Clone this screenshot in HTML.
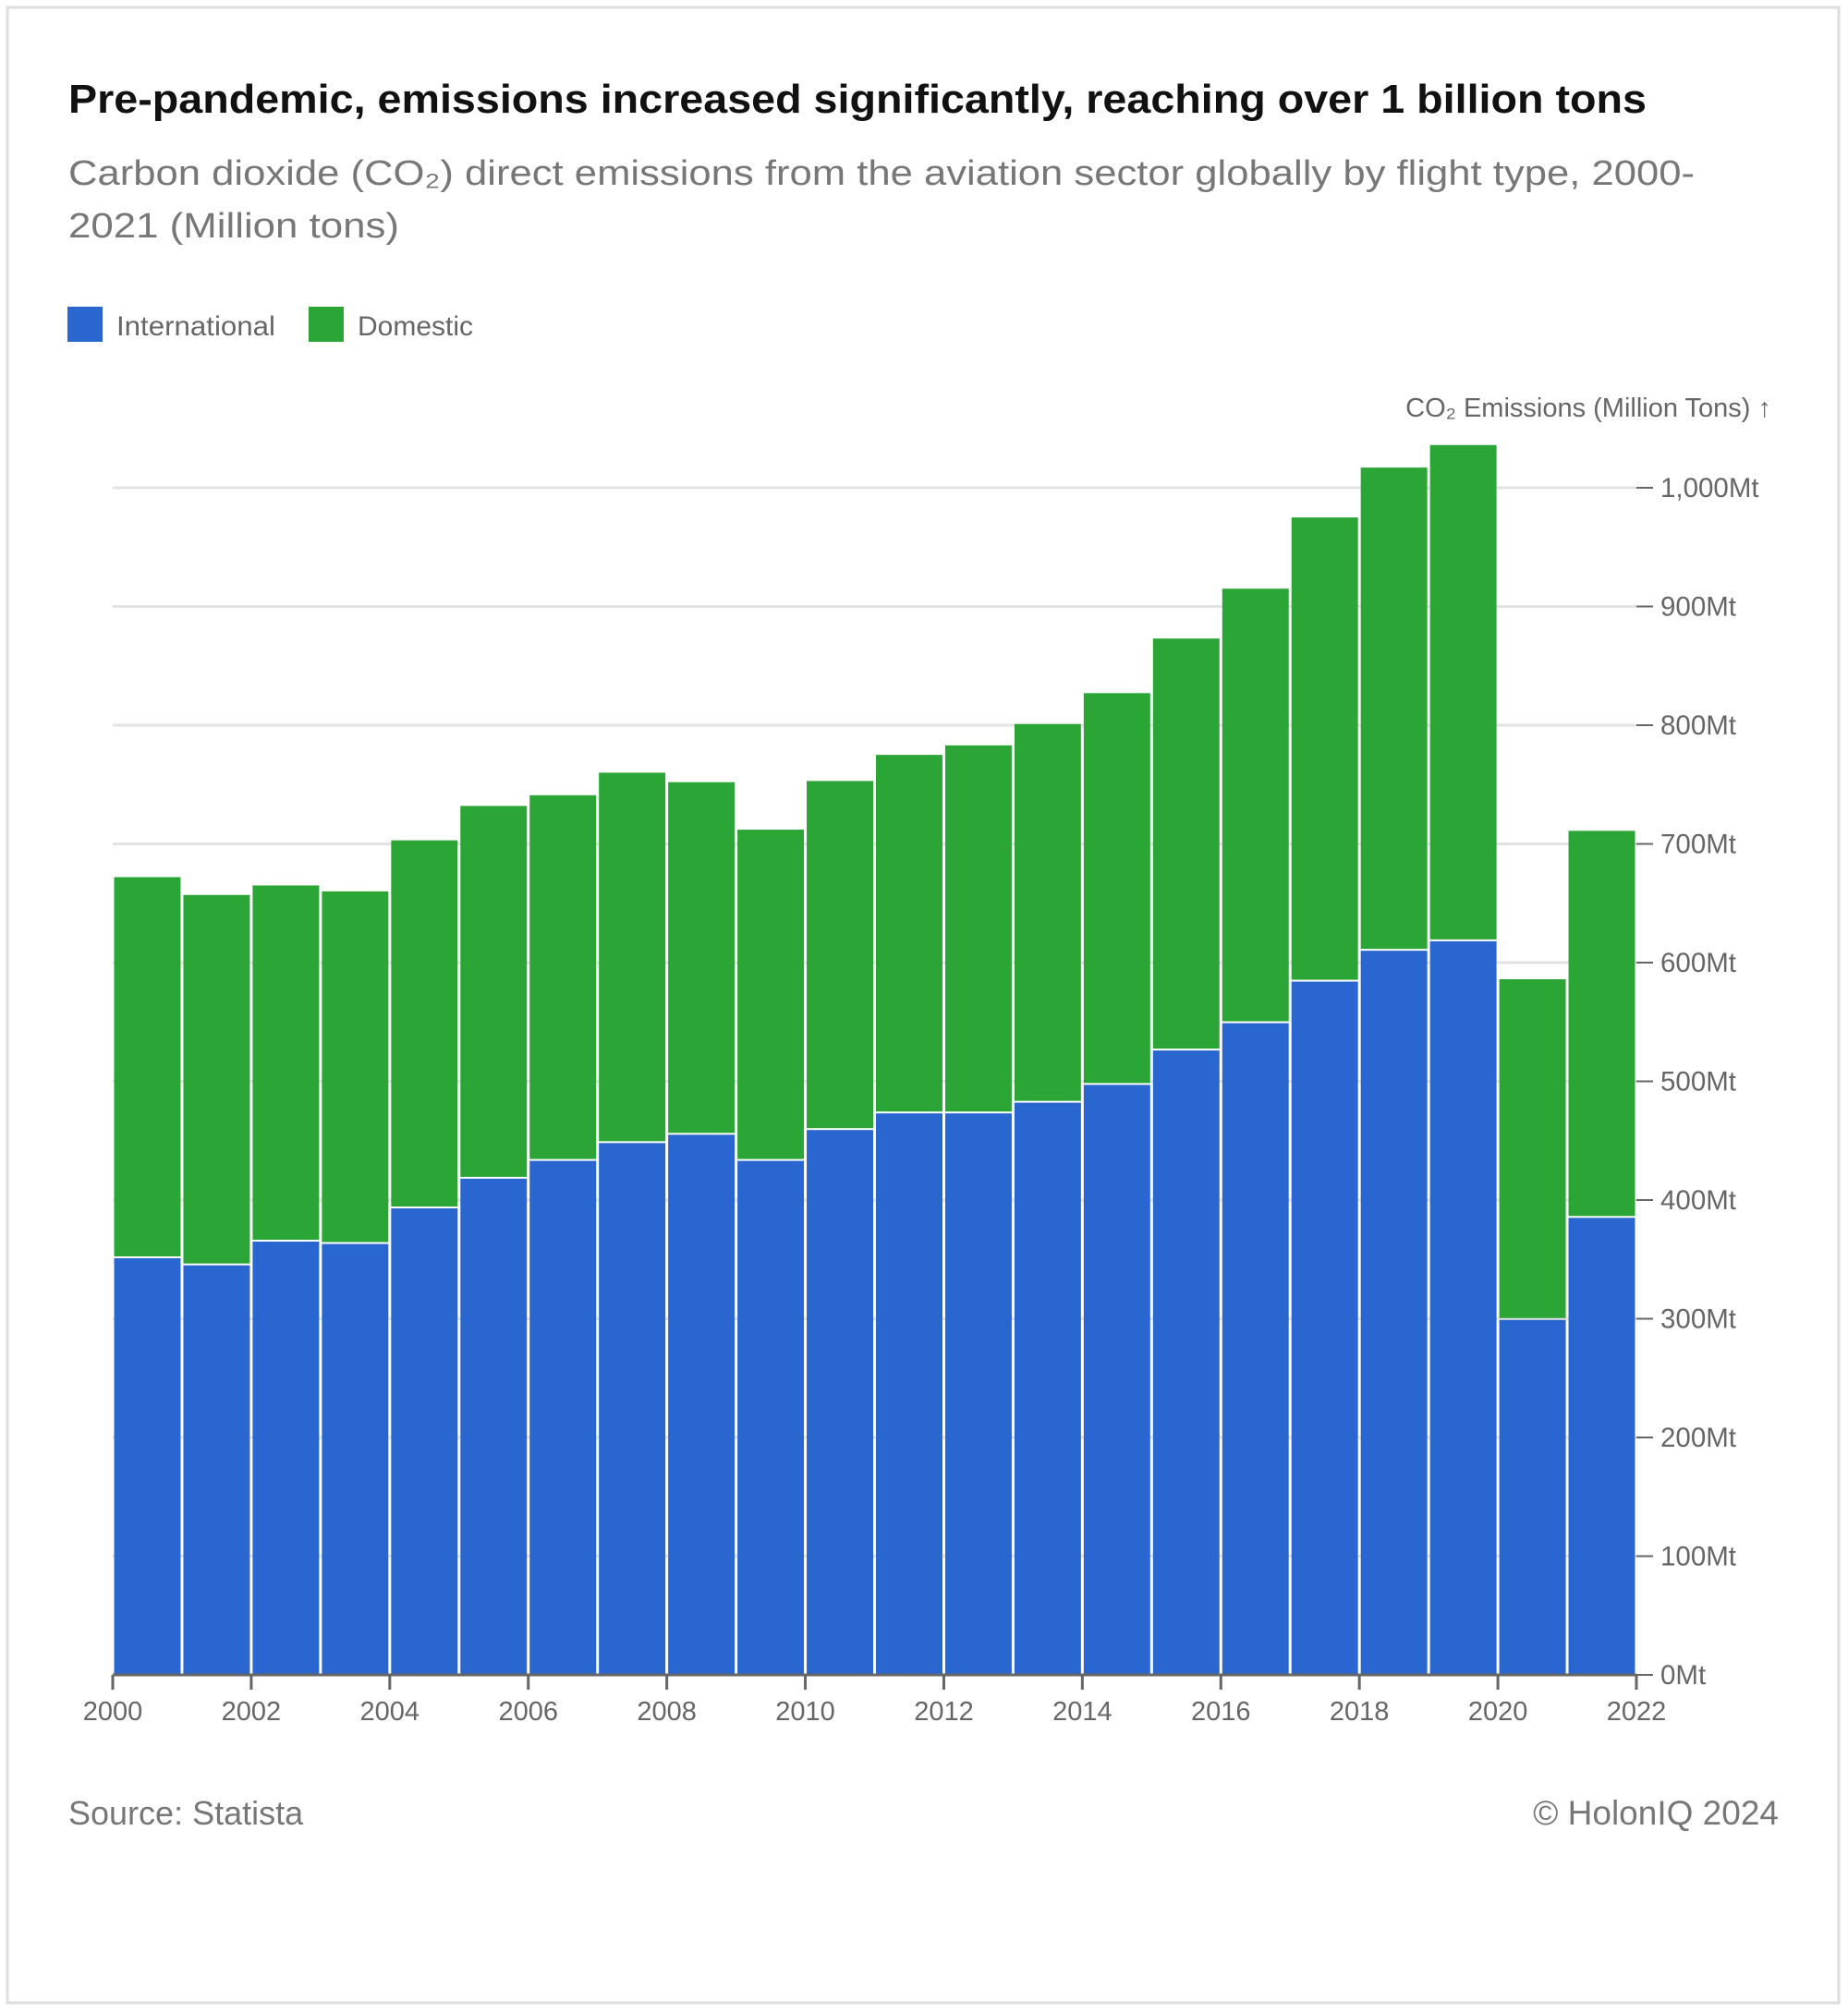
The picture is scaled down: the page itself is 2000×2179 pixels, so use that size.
<!DOCTYPE html>
<html><head><meta charset="utf-8"><style>
html,body{margin:0;padding:0;background:#fff;}
svg{display:block;font-family:"Liberation Sans",sans-serif;}
</style></head><body>
<svg id="chart" width="2000" height="2179" viewBox="0 0 2000 2179">
<rect x="8" y="8" width="1982" height="2160" fill="#fff" stroke="#ddd" stroke-width="3"/>
<text x="74" y="122" font-size="44" font-weight="600" fill="#111" textLength="1708" lengthAdjust="spacingAndGlyphs">Pre-pandemic, emissions increased significantly, reaching over 1 billion tons</text>
<text x="74" y="200" font-size="38" fill="#777" textLength="1760" lengthAdjust="spacingAndGlyphs">Carbon dioxide (CO₂) direct emissions from the aviation sector globally by flight type, 2000-</text>
<text x="74" y="257" font-size="38" fill="#777" textLength="358" lengthAdjust="spacingAndGlyphs">2021 (Million tons)</text>
<rect x="73" y="332" width="38" height="38" fill="#2a66cf"/>
<text x="126" y="363" font-size="30" fill="#666" textLength="172" lengthAdjust="spacingAndGlyphs">International</text>
<rect x="334" y="332" width="38" height="38" fill="#2ba535"/>
<text x="387" y="363" font-size="30" fill="#666">Domestic</text>
<text x="1917" y="451" font-size="29" fill="#666" text-anchor="end">CO₂ Emissions (Million Tons) ↑</text>
<g id="grid"></g><g id="bars"></g><g id="axes"></g>
<text x="74" y="1975" font-size="36" fill="#777">Source: Statista</text>
<text x="1925" y="1975" font-size="37" fill="#777" text-anchor="end">© HolonIQ 2024</text>
</svg>
<script>
const years=[2000,2001,2002,2003,2004,2005,2006,2007,2008,2009,2010,2011,2012,2013,2014,2015,2016,2017,2018,2019,2020,2021];
const international=[351,345,365,363,393,418,433,448,455,433,459,473,473,482,497,526,549,584,610,618,299,385];
const domestic=[321,312,300,297,310,314,308,312,297,279,294,302,310,319,330,347,366,391,407,418,287,326];
const yTicks=[0,100,200,300,400,500,600,700,800,900,1000];
const xTickYears=[2000,2002,2004,2006,2008,2010,2012,2014,2016,2018,2020,2022];
const NS="http://www.w3.org/2000/svg";
const x0=122,x1=1771,y0=1813,y1000=528;
const xs=v=>x0+(v-2000)*(x1-x0)/22;
const ys=v=>y0-v*(y0-y1000)/1000;
function mk(tag,attrs,parent){const e=document.createElementNS(NS,tag);for(const k in attrs)e.setAttribute(k,attrs[k]);document.getElementById(parent).appendChild(e);return e;}
yTicks.forEach(t=>{
 if(t>0){const g=mk('line',{x1:x0,x2:x1,y1:ys(t),y2:ys(t),stroke:'#e3e3e3','stroke-width':3},'grid');
 
 }
 const tk=mk('line',{x1:x1,x2:x1+18,y1:ys(t),y2:ys(t),stroke:'#666','stroke-width':2},'axes');
 
 
 const lb=mk('text',{x:x1+26,y:ys(t)+10,'font-size':29.5,fill:'#666'},'axes');
 lb.textContent=(t>=1000?t.toLocaleString('en-US'):t)+'Mt';
 
 
});
const bw=(x1-x0)/22;
years.forEach((y,i)=>{
 const bx=xs(y)+1.5,w=bw-3;
 const r1=mk('rect',{x:bx,y:ys(international[i]),width:w,height:ys(0)-ys(international[i]),fill:'#2a66cf'},'bars');
 
 
 const tot=international[i]+domestic[i];
 const r2=mk('rect',{x:bx,y:ys(tot),width:w,height:ys(international[i])-ys(tot)-2,fill:'#2ba535'},'bars');
 
 
});
const ax=mk('line',{x1:x0,x2:x1,y1:y0,y2:y0,stroke:'#666','stroke-width':3},'axes');


xTickYears.forEach(y=>{
 const t=mk('line',{x1:xs(y),x2:xs(y),y1:y0,y2:y0+16,stroke:'#666','stroke-width':3},'axes');
 
 
 const l=mk('text',{x:xs(y),y:y0+49,'font-size':29,fill:'#666','text-anchor':'middle'},'axes');
 l.textContent=y;
 
 
});
</script>
</body></html>
